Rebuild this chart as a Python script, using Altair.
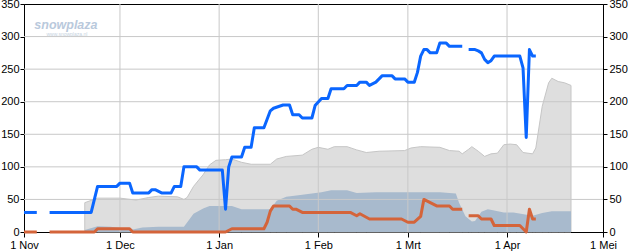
import altair as alt
import pandas as pd

# ---- axis ticks / labels ----
tick_days = [0, 30, 61, 92, 120, 151, 181]
tick_labels = ["1 Nov", "1 Dec", "1 Jan", "1 Feb", "1 Mrt", "1 Apr", "1 Mei"]
y_ticks = [0, 50, 100, 150, 200, 250, 300, 350]
x_grid_days = [30, 61, 92, 120, 151]
y_grid_vals = [50, 100, 150, 200, 250, 300]

# ---- snow depth, upper station (blue), days since 1 Nov ----
blue_a_day = [0, 4]
blue_a_val = [30, 30]
blue_b_day = [8, 21, 23, 29, 30, 33, 34, 39, 40, 41, 43, 46, 47, 49, 50, 54, 55, 62, 63, 64,
              65, 68, 69, 71, 72, 75, 77, 78, 81, 83, 84, 86, 87, 90, 91, 93, 95, 96, 100, 101,
              104, 105, 107, 108, 110, 111, 112, 115, 116, 119, 120, 122, 123, 124, 125, 126, 127, 129, 130, 132,
              133, 137]
blue_b_val = [30, 30, 70, 70, 75, 75, 60, 60, 65, 65, 60, 60, 70, 70, 100, 100, 95, 95, 35, 100,
              115, 115, 130, 130, 160, 160, 186, 190, 195, 195, 180, 180, 175, 175, 194, 205, 205, 220, 220, 225,
              225, 230, 230, 225, 230, 235, 240, 240, 235, 235, 230, 230, 245, 270, 280, 280, 275, 275, 290, 290,
              285, 285]
blue_c_day = [139, 141, 142, 143, 144, 145, 146, 147, 155, 156, 157, 158, 159, 160]
blue_c_val = [280, 280, 278, 275, 265, 260, 263, 270, 270, 252, 145, 280, 270, 270]

# ---- snow depth, lower station (orange) ----
or_a_day = [0, 4]
or_a_val = [0, 0]
or_b_day = [8, 22, 23, 33, 34, 63, 65, 75, 76, 77, 78, 83, 84, 85, 87, 102, 104, 105, 108, 118,
            120, 122, 124, 125, 127, 129, 133, 134, 137]
or_b_val = [0, 0, 5, 5, 0, 0, 5, 5, 15, 32, 40, 40, 35, 35, 30, 30, 25, 28, 20, 20,
            15, 15, 24, 50, 45, 40, 40, 35, 35]
or_c_day = [139, 142, 143, 146, 147, 155, 156, 157, 158, 159, 160]
or_c_val = [25, 25, 20, 20, 10, 10, 5, 0, 35, 20, 20]

# ---- long-term averages ----
avg_hi_day = [19, 23, 30, 35, 39, 42, 48, 50, 51, 53, 56, 58, 60, 63, 65, 68, 71, 77, 79, 82,
              87, 90, 92, 95, 97, 101, 104, 107, 111, 119, 121, 124, 130, 133, 136, 137, 139, 140, 142, 144,
              146, 148, 150, 152, 154, 156, 159, 160, 162, 164, 165, 167, 169, 171]
avg_hi_val = [45, 52, 52, 49, 53, 55, 54, 50, 53, 70, 88, 103, 110, 111, 112, 107, 104, 104, 112, 116,
              118, 127, 130, 127, 131, 131, 126, 122, 124, 125, 129, 131, 130, 125, 124, 120, 127, 131, 124, 116,
              120, 121, 134, 135, 134, 122, 120, 129, 193, 229, 236, 231, 229, 225]
avg_lo_day = [19, 23, 27, 34, 37, 42, 50, 53, 56, 58, 65, 68, 77, 79, 82, 87, 90, 93, 96, 101,
              104, 110, 130, 135, 136, 138, 140, 141, 143, 145, 147, 150, 153, 159, 162, 165, 171]
avg_lo_val = [3, 9, 8, 4, 7, 8, 8, 28, 36, 40, 40, 35, 35, 48, 54, 57, 59, 61, 64, 64,
              60, 61, 61, 59, 45, 24, 16, 17, 31, 35, 33, 30, 30, 25, 29, 32, 32]


def seg_frame(segments):
    rows = []
    for i, (days, vals) in enumerate(segments):
        for d, v in zip(days, vals):
            rows.append({"day": d, "value": v, "seg": i})
    return pd.DataFrame(rows)


blue_df = seg_frame([(blue_a_day, blue_a_val), (blue_b_day, blue_b_val), (blue_c_day, blue_c_val)])
orange_df = seg_frame([(or_a_day, or_a_val), (or_b_day, or_b_val), (or_c_day, or_c_val)])
hi_df = pd.DataFrame({"day": avg_hi_day, "value": avg_hi_val})
lo_df = pd.DataFrame({"day": avg_lo_day, "value": avg_lo_val})
xg_df = pd.DataFrame({"day": x_grid_days})
yg_df = pd.DataFrame({"value": y_grid_vals})

FONT = "Liberation Sans"
names_js = "[" + ",".join("'%s'" % t for t in tick_labels) + "]"
days_js = "[" + ",".join(str(d) for d in tick_days) + "]"

xscale = alt.Scale(domain=[0, 181], nice=False, zero=False)
yscale = alt.Scale(domain=[0, 350], nice=False)

x_axis = alt.Axis(values=tick_days, labelExpr=f"{names_js}[indexof({days_js}, datum.value)]",
                  grid=False, tickSize=5, tickColor="black", domainColor="black",
                  labelColor="black", labelFont=FONT, labelFontSize=11, labelPadding=2,
                  labelFlush=False, labelOverlap=False, title=None)
left_axis = alt.Axis(values=y_ticks, orient="left", grid=False, tickSize=4, tickColor="black",
                     domainColor="black", labelColor="black", labelFont=FONT, labelFontSize=11,
                     labelPadding=1, title=None)
right_axis = alt.Axis(values=y_ticks, orient="right", grid=False, tickSize=4, tickColor="black",
                      domainColor="black", labelColor="black", labelFont=FONT, labelFontSize=11,
                      labelPadding=2, title=None)


def X(field="day"):
    return alt.X(f"{field}:Q", scale=xscale, axis=x_axis)


hi_area = alt.Chart(hi_df).mark_area(color="#dedede", stroke="#c6c6c6", strokeWidth=1).encode(
    x=X(), y=alt.Y("value:Q", scale=yscale, axis=left_axis))
lo_area = alt.Chart(lo_df).mark_area(color="#a8bacd").encode(
    x=X(), y=alt.Y("value:Q", scale=yscale, axis=None))
x_grid = alt.Chart(xg_df).mark_rule(color="#c8c8c8", strokeWidth=1).encode(x=X())
y_grid = alt.Chart(yg_df).mark_rule(color="#c8c8c8", strokeWidth=1).encode(
    y=alt.Y("value:Q", scale=yscale, axis=right_axis))
orange_line = alt.Chart(orange_df).mark_line(color="#d4643a", strokeWidth=3, strokeJoin="round").encode(
    x=X(), y=alt.Y("value:Q", scale=yscale, axis=None), detail="seg:N")
blue_line = alt.Chart(blue_df).mark_line(color="#0a66ff", strokeWidth=3, strokeJoin="round").encode(
    x=X(), y=alt.Y("value:Q", scale=yscale, axis=None), detail="seg:N")

logo = alt.Chart(pd.DataFrame({"t": ["snowplaza"]})).mark_text(
    font=FONT, fontWeight="bold", fontStyle="italic", fontSize=12.5, color="#b9c9dc",
    align="center", baseline="alphabetic").encode(
    x=alt.X(datum=13.1, type="quantitative", scale=xscale, axis=x_axis),
    y=alt.Y(datum=312, type="quantitative", scale=yscale, axis=None),
    text="t:N")
logo_url = alt.Chart(pd.DataFrame({"t": ["www.snowplaza.nl"]})).mark_text(
    font=FONT, fontSize=5, color="#c5d2e0", align="center", baseline="middle").encode(
    x=alt.X(datum=13.4, type="quantitative", scale=xscale, axis=x_axis),
    y=alt.Y(datum=304, type="quantitative", scale=yscale, axis=None),
    text="t:N")

chart = alt.layer(hi_area, lo_area, x_grid, y_grid, orange_line, blue_line, logo, logo_url).resolve_axis(
    y="independent").properties(
    width=579, height=228,
    autosize=alt.AutoSizeParams(type="none"),
    padding={"left": 24, "top": 4, "right": 25, "bottom": 19},
).configure_view(stroke="black", strokeWidth=1)

chart.save("out.html", embed_options={"renderer": "svg", "actions": False})
